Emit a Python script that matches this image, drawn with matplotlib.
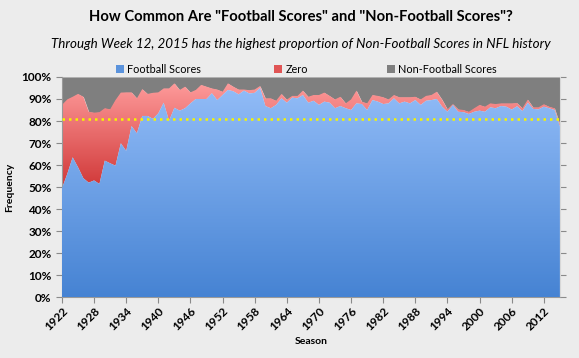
import numpy as np
import matplotlib
matplotlib.use("Agg")
import matplotlib.pyplot as plt
from matplotlib.colors import LinearSegmentedColormap
from matplotlib.patches import Patch

plt.rcParams['font.family'] = ['Lato', 'DejaVu Sans']

# === Data ===
seasons = list(range(1922, 2016))

football = [49.4, 56.0, 63.5, 59.0, 54.0, 52.0, 53.0, 51.4, 62.0, 60.8,
            59.7, 69.9, 66.4, 77.7, 74.4, 82.3, 82.3, 81.0, 83.5, 88.3,
            80.1, 86.0, 84.7, 85.8, 88.0, 90.0, 90.0, 90.0, 92.6, 89.5,
            91.8, 94.1, 93.5, 92.1, 93.8, 92.5, 92.8, 95.0, 86.8, 85.8,
            87.3, 90.3, 88.3, 90.6, 90.3, 91.8, 88.3, 89.2, 87.3, 88.8,
            88.3, 85.8, 86.8, 85.8, 85.0, 88.0, 87.7, 85.0, 89.5, 88.8,
            87.7, 88.0, 90.3, 88.0, 88.8, 88.0, 89.5, 87.3, 89.2, 89.5,
            90.0, 86.5, 84.2, 87.3, 84.2, 84.0, 83.2, 84.2, 84.7, 84.2,
            86.2, 85.8, 86.8, 86.5, 85.2, 86.7, 84.5, 88.3, 85.5, 85.3,
            86.5, 85.8, 85.0, 77.5]

zero = [37.9, 33.8, 27.5, 33.3, 37.0, 32.2, 30.8, 32.6, 23.8, 24.5,
        29.8, 23.0, 26.6, 15.3, 15.9, 12.2, 10.0, 11.8, 9.5, 6.5,
        14.7, 11.1, 9.4, 9.8, 5.0, 4.1, 6.4, 5.6, 2.2, 4.8,
        1.5, 3.0, 2.1, 2.2, 0.5, 1.5, 1.5, 0.9, 3.5, 4.5,
        1.9, 2.0, 1.4, 0.8, 1.1, 2.0, 2.7, 2.6, 4.5, 4.1,
        3.1, 4.0, 4.2, 2.2, 4.8, 5.8, 1.1, 3.0, 2.3, 2.6,
        3.1, 1.8, 1.5, 2.8, 2.0, 2.8, 1.5, 2.5, 2.2, 2.3,
        3.3, 3.2, 1.1, 0.4, 1.1, 1.0, 1.0, 1.6, 2.6, 2.3,
        1.8, 1.9, 1.2, 1.5, 2.8, 1.5, 1.3, 1.4, 0.7, 0.9,
        1.1, 0.7, 0.8, 1.0]

non_football = [12.7, 10.2, 9.0, 7.7, 9.0, 15.8, 16.2, 16.0, 14.2, 14.7,
                10.5, 7.1, 7.0, 7.0, 9.7, 5.5, 7.7, 7.2, 7.0, 5.2,
                5.2, 2.9, 5.9, 4.4, 7.0, 5.9, 3.6, 4.4, 5.2, 5.7,
                6.7, 2.9, 4.4, 5.7, 5.7, 6.0, 5.7, 4.1, 9.7, 9.7,
                10.8, 7.7, 10.3, 8.6, 8.6, 6.2, 9.0, 8.2, 8.2, 7.1,
                8.6, 10.2, 9.0, 12.0, 10.2, 6.2, 11.2, 12.0, 8.2, 8.6,
                9.2, 10.2, 8.2, 9.2, 9.2, 9.2, 9.0, 10.2, 8.6, 8.2,
                6.7, 10.3, 14.7, 12.3, 14.7, 15.0, 15.8, 14.2, 12.7, 13.5,
                12.0, 12.3, 12.0, 12.0, 12.0, 11.8, 14.2, 10.3, 13.8, 13.8,
                12.4, 13.5, 14.2, 21.5]

reference_level = 80.8   # yellow dotted line
tick_years = list(range(1922, 2016, 6))
ytick_vals = list(range(0, 101, 10))
series_names = ["Football Scores", "Zero", "Non-Football Scores"]

title = 'How Common Are "Football Scores" and "Non-Football Scores"?'
subtitle = "Through Week 12, 2015 has the highest proportion of Non-Football Scores in NFL history"

# === Figure ===
bg = "#ececec"
fig = plt.figure(figsize=(5.79, 3.58), dpi=100, facecolor=bg)
ax = fig.add_axes([0.107, 0.170, 0.860, 0.615], facecolor=bg)

x = np.array(seasons, dtype=float)
f = np.array(football)
z = np.array(zero)
n = np.array(non_football)
top_f = f
top_z = f + z
top_n = top_f + z + n


def gradient_area(ax, x, lo, hi, c_bot, c_top, gmin, gmax, zorder):
    poly = ax.fill_between(x, lo, hi, color="none", lw=0)
    cmap = LinearSegmentedColormap.from_list("g", [c_bot, c_top])
    grad = np.linspace(0, 1, 256).reshape(-1, 1)
    im = ax.imshow(grad, cmap=cmap, origin="lower", aspect="auto",
                   extent=[x[0], x[-1], gmin, gmax], zorder=zorder,
                   interpolation="bilinear")
    im.set_clip_path(poly.get_paths()[0], transform=ax.transData)
    return im


ax.fill_between(x, top_z, top_n, color="#7f7f7f", lw=0, zorder=1)
gradient_area(ax, x, top_f, top_z, "#cf3535", "#ff9d9d", 48, 98, 2)
gradient_area(ax, x, 0, top_f, "#4683d3", "#93bdf8", 0, 97, 3)

ax.axhline(reference_level, color="#f5f500", lw=1.8, ls=(0, (1, 1.6)), zorder=4)

ax.set_xlim(1922, 2015)
ax.set_ylim(0, 100)

ax.set_yticks(ytick_vals)
ax.set_yticklabels([f"{v}%" for v in ytick_vals], fontweight="bold")
ax.set_xticks(tick_years)
ax.set_xticklabels([str(t) for t in tick_years], rotation=45, ha="right",
                   rotation_mode="anchor", fontweight="bold")

ax.tick_params(axis="both", colors="#8a8a8a", labelcolor="black",
               labelsize=8.5, length=4, width=0.8)
ax.tick_params(axis="y", right=True, labelright=False)
ax.tick_params(axis="x", pad=2)

for s in ["left", "bottom", "right"]:
    ax.spines[s].set_color("#9a9a9a")
    ax.spines[s].set_linewidth(0.8)
ax.spines["right"].set_color("#d8d8d8")
ax.spines["top"].set_visible(False)

ax.set_xlabel("Season", fontsize=7.5, fontweight="bold", labelpad=3)
ax.set_ylabel("Frequency", fontsize=7.5, fontweight="bold", labelpad=5)

fig.text(0.52, 0.953, title, ha="center", va="center", fontsize=10.6,
         fontweight="bold")
fig.text(0.52, 0.877, subtitle, ha="center", va="center", fontsize=9.6,
         style="italic")

# legend entries placed one by one, like the reference's uneven spacing
legend_colors = ["#5b93dc", "#e05555", "#7f7f7f"]
legend_x = [0.201, 0.474, 0.669]
for name, col, lx in zip(series_names, legend_colors, legend_x):
    fig.legend([Patch(facecolor=col, edgecolor="none")], [name],
               loc="center left", bbox_to_anchor=(lx, 0.807), frameon=False,
               fontsize=7.8, handlelength=0.7, handleheight=0.7,
               handletextpad=0.3, borderaxespad=0, borderpad=0)

fig.savefig("out.png", dpi=100, facecolor=bg)
